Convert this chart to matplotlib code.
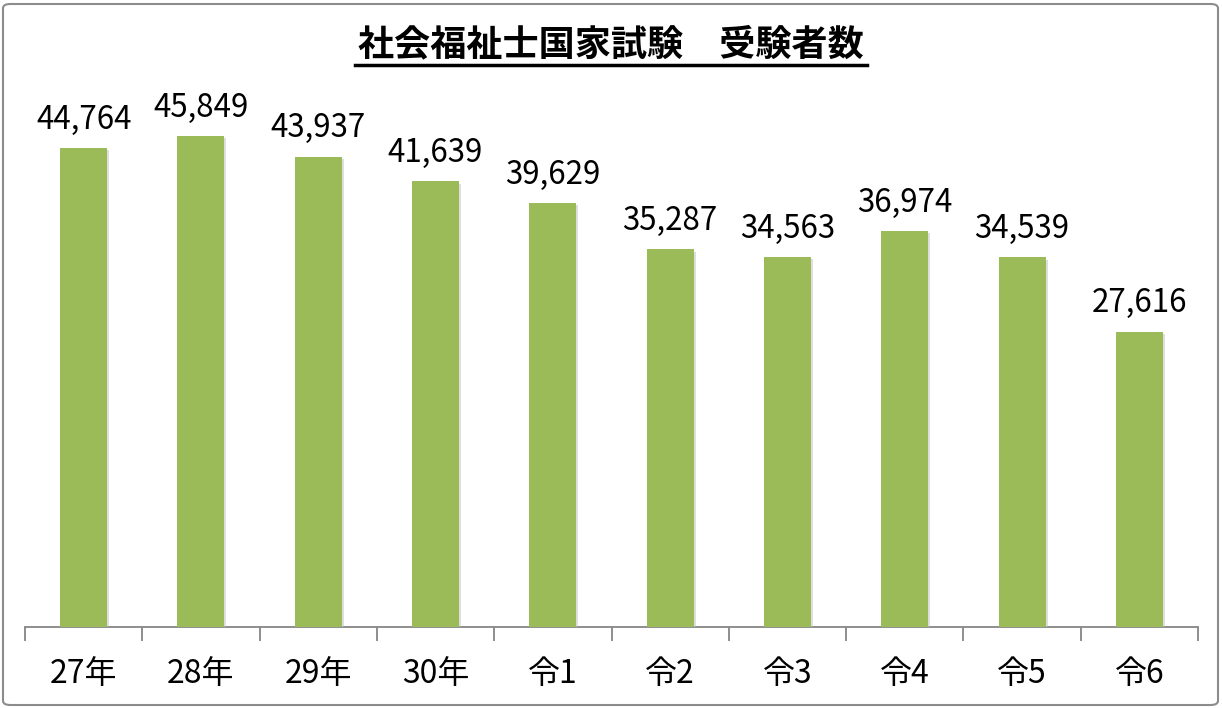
import matplotlib
matplotlib.use("Agg")
import matplotlib.pyplot as plt
from matplotlib.patches import FancyBboxPatch
from matplotlib.lines import Line2D
import matplotlib.patheffects as pe

plt.rcParams['font.family'] = ['Noto Sans CJK JP', 'DejaVu Sans']

categories = ["27年", "28年", "29年", "30年", "令1", "令2", "令3", "令4", "令5", "令6"]
values = [44764, 45849, 43937, 41639, 39629, 35287, 34563, 36974, 34539, 27616]
title = "社会福祉士国家試験　受験者数"

W, H = 1222, 708
fig = plt.figure(figsize=(W / 100, H / 100), dpi=100)
fig.patch.set_facecolor("white")

# border
border = FancyBboxPatch((3 / W, 3 / H), (W - 7) / W, (H - 7) / H,
                        boxstyle="round,pad=0,rounding_size=0.006",
                        transform=fig.transFigure, fill=False,
                        edgecolor="#8c8c8c", linewidth=1.5)
fig.add_artist(border)

ax = fig.add_axes([25 / W, 1 - 627 / H, (1198 - 25) / W, (627 - 92) / H])
x = list(range(len(categories)))
bars = ax.bar(x, values, width=0.4, color="#9BBB59", zorder=3,
              path_effects=[pe.SimplePatchShadow(offset=(1.5, -1.5), shadow_rgbFace="#bfbfbf", alpha=0.5), pe.Normal()])
ax.set_xlim(-0.5, len(categories) - 0.5)
ax.set_ylim(0, 50000)

for xi, v in zip(x, values):
    ax.annotate(f"{v:,}", (xi, v), xytext=(0, 9), textcoords="offset points",
                ha="center", va="bottom", fontsize=22.5, color="black")

for s in ["top", "right", "left"]:
    ax.spines[s].set_visible(False)
ax.spines["bottom"].set_color("#868686")
ax.spines["bottom"].set_linewidth(1.3)
ax.set_yticks([])

ax.set_xticks(x)
ax.set_xticklabels(categories, fontsize=23)
ax.tick_params(axis="x", length=0, pad=22)
ax.set_xticks([i - 0.5 for i in range(len(categories) + 1)], minor=True)
ax.tick_params(axis="x", which="minor", length=10, width=1.3, color="#868686", direction="out")

# title
fig.text(611 / W, 1 - 45 / H, title, ha="center", va="center",
         fontsize=26, fontweight="semibold", color="black")
fig.add_artist(Line2D([355 / W, 867 / W], [1 - 65 / H, 1 - 65 / H],
                      transform=fig.transFigure, color="black", linewidth=2.5))

fig.savefig("out.png", dpi=100)
